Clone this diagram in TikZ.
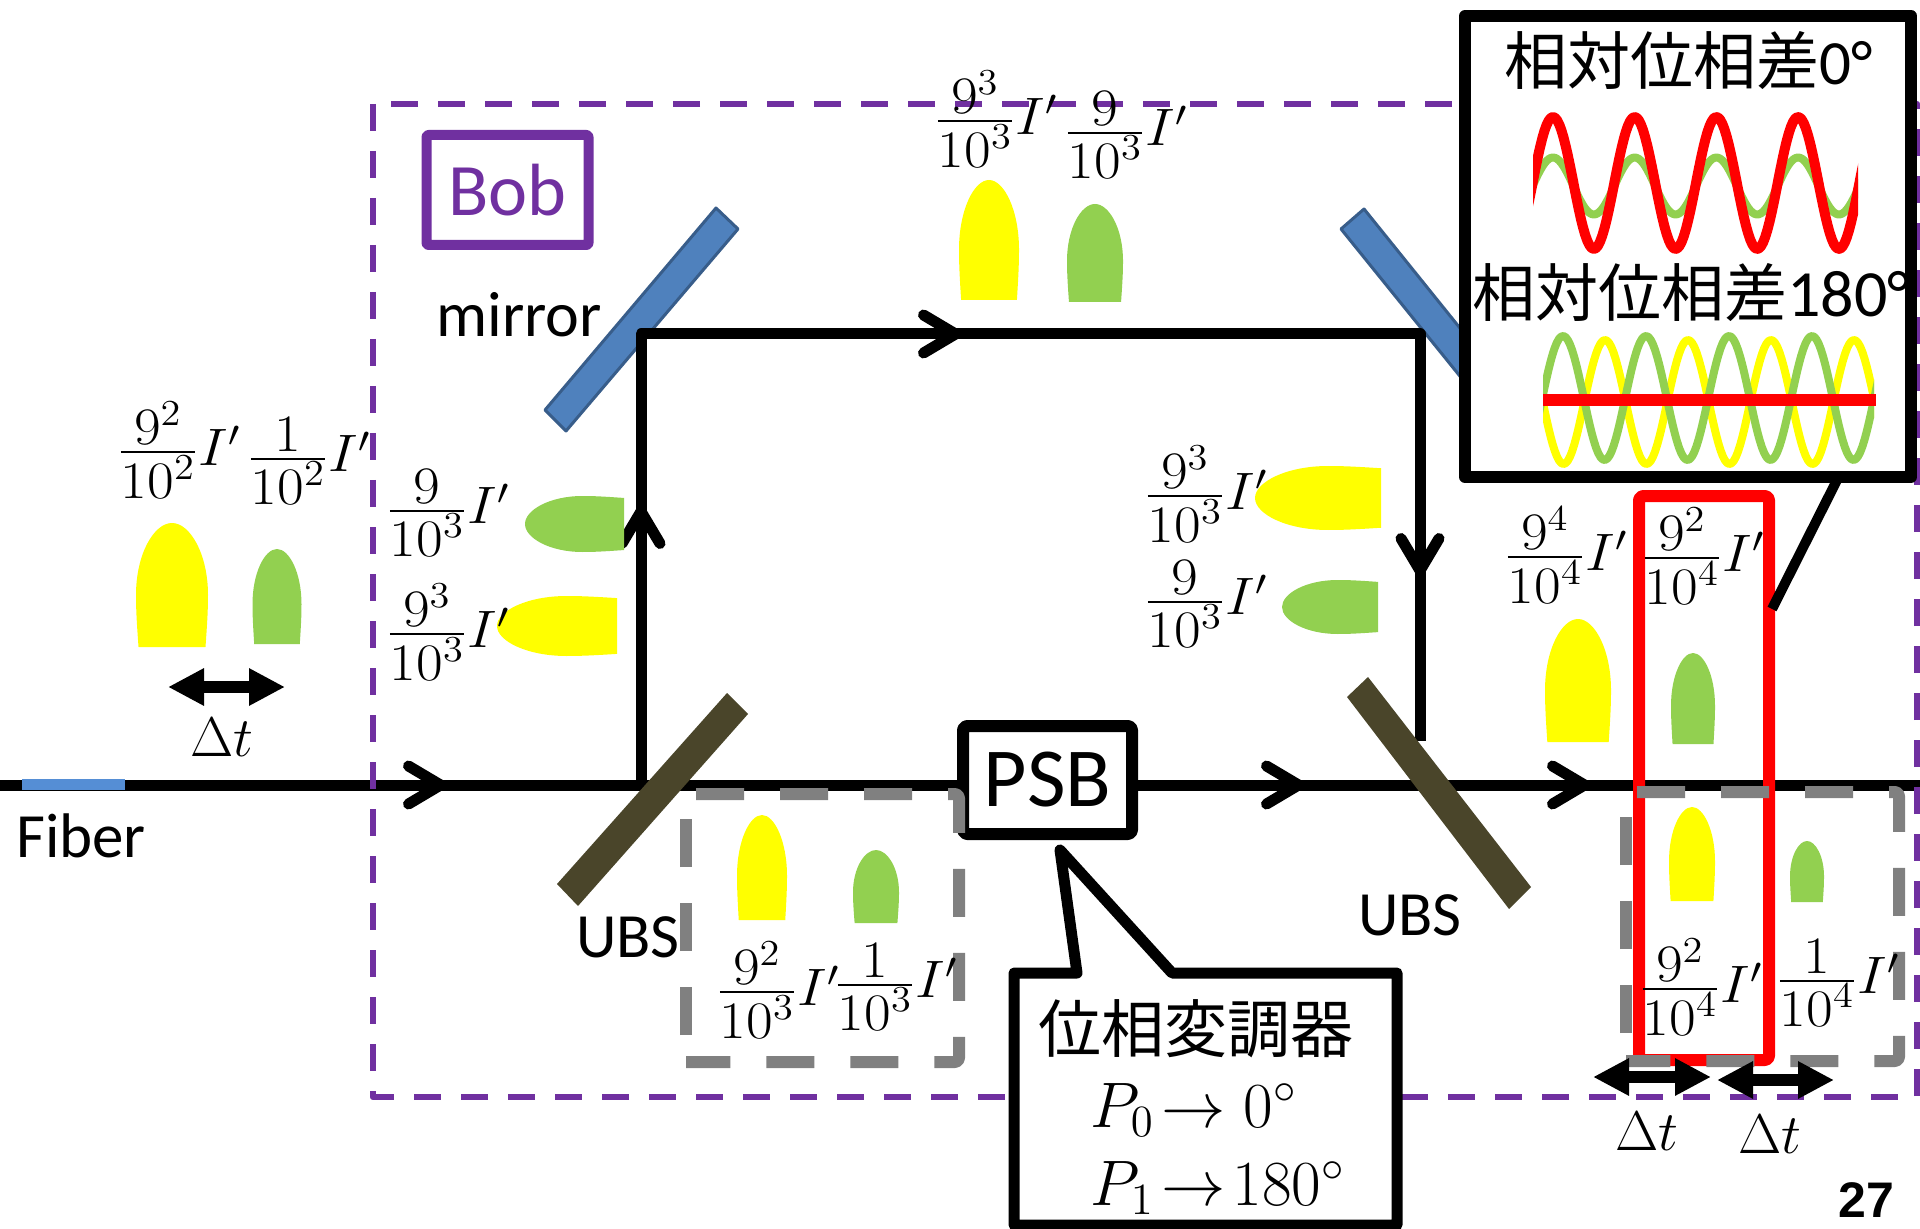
\documentclass[tikz,border=0pt]{standalone}
\usepackage{amsmath}
\usepackage[no-math]{fontspec}
\setmainfont{Carlito}
\newfontfamily\jpfont{Noto Sans CJK JP}
\usetikzlibrary{arrows.meta}

\definecolor{pulseGreen}{HTML}{92D050}
\definecolor{pulseYellow}{RGB}{255,255,0}
\definecolor{lineRed}{RGB}{255,0,0}
\definecolor{bobPurple}{HTML}{7030A0}
\definecolor{mirrorBlue}{HTML}{4F81BD}
\definecolor{mirrorEdge}{HTML}{385D8A}
\definecolor{fiberBlue}{HTML}{558ED5}
\definecolor{ubsBrown}{HTML}{4A452A}

% x, y of the flat side, half width, length, colour, rotation
\newcommand{\pulse}[6]{%
  \fill[#5, shift={(#1,#2)}, rotate=#6, xscale=#3, yscale=#4]
    (-.93,0) .. controls (-.98,-.2) and (-1,-.3) .. (-1,-.42)
    .. controls (-1,-.75) and (-.5,-1) .. (0,-1)
    .. controls (.5,-1) and (1,-.75) .. (1,-.42)
    .. controls (1,-.3) and (.98,-.2) .. (.93,0) -- cycle;}
\newcommand{\mathBox}[2]{\scalebox{#1}{\huge$#2$}}
\newcommand{\iFrac}[2]{\scalebox{1.4}[1.27]{\huge$\genfrac{}{}{0.9pt}{}{\textstyle #1}{\textstyle #2}I'$}}

\begin{document}
\begin{tikzpicture}[x=0.5pt, y=-0.5pt, line join=round]
  \useasboundingbox (0,0) rectangle (1920,1229);

  \tikzset{beam/.style={line width=5.5pt, color=black}}
  \tikzset{chevron/.style={-{Straight Barb[length=16pt, width=19pt, round]}}}
  \tikzset{frlabel/.style={anchor=west, inner sep=0pt}}
  \tikzset{calibri/.style={inner sep=0pt, font=\fontsize{31.5}{36}\selectfont}}
  \tikzset{jplabel/.style={inner sep=0pt, font=\fontsize{31.5}{36}\selectfont}}
  \tikzset{greydash/.style={line width=6pt, color=gray, rounded corners=2pt, dash pattern=on 24pt off 18pt}}
  \tikzset{dtarrow/.style={line width=6pt, {Triangle[length=18pt, width=17.5pt]}-{Triangle[length=18pt, width=17.5pt]}}}

  % Points of the beam
  \coordinate (FiberL) at (0,785);
  \coordinate (TipA) at (446,785);
  \coordinate (UbsA) at (641,785);
  \coordinate (TipUp) at (641,506);
  \coordinate (CornerA) at (641,334);
  \coordinate (TipTop) at (961,334);
  \coordinate (CornerB) at (1420,334);
  \coordinate (TipDown) at (1420,576);
  \coordinate (UbsB) at (1420,735);
  \coordinate (UbsBout) at (1450,785);
  \coordinate (TipB) at (1304,785);
  \coordinate (TipC) at (1590,785);
  \coordinate (FiberR) at (1920,785);

  % Mirrors
  \filldraw[fill=mirrorBlue, draw=mirrorEdge, line width=1.5pt]
    (716,208) -- (738,229) -- (566,431) -- (545,410) -- cycle;
  \filldraw[fill=mirrorBlue, draw=mirrorEdge, line width=1.5pt]
    (1341,229) -- (1364,209) -- (1480,353) -- (1480,401) -- cycle;

  % PSB box
  \node (PSB) [draw, line width=6pt, rounded corners=2pt, fill=white, minimum width=84.5pt,
    minimum height=54pt, inner sep=0pt, font=\fontsize{42}{46}\selectfont] at (1047.5,780) {PSB};

  % Beam lines
  \draw[beam] (FiberL) -- (UbsA);
  \draw[beam, chevron] (FiberL) -- (TipA);
  \fill[fiberBlue] (22,779) rectangle (125,790);
  \draw[beam] (UbsA) -- (PSB.west |- UbsA);
  \draw[beam, chevron] (UbsA) -- (TipUp);
  \draw[beam, line cap=rect] (TipUp) -- (CornerA) -- (CornerB) -- (UbsB);
  \draw[beam, chevron] (CornerA) -- (TipTop);
  \draw[beam, chevron] (CornerB) -- (TipDown);
  \draw[beam] (PSB.east |- UbsA) -- (FiberR);
  \draw[beam, chevron] (PSB.east |- UbsA) -- (TipB);
  \draw[beam, chevron] (UbsBout) -- (TipC);

  % Beam splitters
  \fill[ubsBrown] (727,693) -- (748,714) -- (578,906) -- (557,884) -- cycle;
  \fill[ubsBrown] (1368,677) -- (1347,697) -- (1509,909) -- (1531,887) -- cycle;

  % Pulses
  \pulse{172}{647}{36}{124}{pulseYellow}{0}
  \pulse{277}{644}{24.5}{95}{pulseGreen}{0}
  \pulse{624}{524}{28}{99}{pulseGreen}{90}
  \pulse{617}{626}{30}{120}{pulseYellow}{90}
  \pulse{989}{300}{30}{120}{pulseYellow}{0}
  \pulse{1095}{302}{28}{98}{pulseGreen}{0}
  \pulse{1381}{498}{32}{126}{pulseYellow}{90}
  \pulse{1378}{607}{27}{96}{pulseGreen}{90}
  \pulse{1578}{742}{33}{123}{pulseYellow}{0}
  \pulse{1693}{744}{22}{91}{pulseGreen}{0}
  \pulse{1692}{901}{23}{94}{pulseYellow}{0}
  \pulse{1807}{902}{17}{61}{pulseGreen}{0}
  \pulse{762}{920}{25}{105}{pulseYellow}{0}
  \pulse{876}{923}{23}{73}{pulseGreen}{0}

  % Bob frame
  \draw[bobPurple, line width=3.2pt, dash pattern=on 13.5pt off 10pt]
    (373,104) rectangle (1917,1097);
  \node (Bob) [draw=bobPurple, text=bobPurple, line width=5pt, rounded corners=1pt, minimum width=81pt,
    minimum height=55pt, inner sep=0pt, font=\fontsize{37}{40}\selectfont] at (507.5,190) {Bob};

  % Red frame and grey frames
  \draw[lineRed, line width=6pt, rounded corners=2pt] (1639,496) rectangle (1769,1060);
  \draw[greydash] (696,794) -- (959,794) -- (959,1062) -- (686,1062);
  \draw[greydash] (686,1035) -- (686,815);
  \draw[greydash] (1637,792) -- (1899,792) -- (1899,1061) -- (1626,1061);
  \draw[greydash] (1626,1033) -- (1626,815);

  % Fractions
  \node (LblA) [frlabel] at (117,450) {\iFrac{9^2}{10^2}};
  \node (LblB) [frlabel] at (247,461) {\iFrac{1}{10^2}};
  \node (LblC) [frlabel] at (386,513) {\iFrac{9}{10^3}};
  \node (LblD) [frlabel] at (386,632) {\iFrac{9^3}{10^3}};
  \node (LblE) [frlabel] at (934,119) {\iFrac{9^3}{10^3}};
  \node (LblF) [frlabel] at (1064,135) {\iFrac{9}{10^3}};
  \node (LblG) [frlabel] at (1144,494) {\iFrac{9^3}{10^3}};
  \node (LblH) [frlabel] at (1144,604) {\iFrac{9}{10^3}};
  \node (LblI) [frlabel] at (1504,555) {\iFrac{9^4}{10^4}};
  \node (LblJ) [frlabel] at (1641,556) {\iFrac{9^2}{10^4}};
  \node (LblK) [frlabel] at (1639,987) {\iFrac{9^2}{10^4}};
  \node (LblL) [frlabel] at (1776,983) {\iFrac{1}{10^4}};
  \node (LblM) [frlabel] at (716,990) {\iFrac{9^2}{10^3}};
  \node (LblN) [frlabel] at (834,987) {\iFrac{1}{10^3}};

  % Delay arrows
  \coordinate (DtAl) at (168,687);
  \coordinate (DtAr) at (285,687);
  \coordinate (DtBl) at (1593,1077);
  \coordinate (DtBr) at (1711,1077);
  \coordinate (DtCl) at (1717,1080);
  \coordinate (DtCr) at (1834,1080);
  \draw[dtarrow] (DtAl) -- (DtAr);
  \draw[dtarrow] (DtBl) -- (DtBr);
  \draw[dtarrow] (DtCl) -- (DtCr);
  \node (DtA) [inner sep=0pt] at (222,737) {\mathBox{1.35}{\Delta t}};
  \node (DtB) [inner sep=0pt] at (1647,1131) {\mathBox{1.35}{\Delta t}};
  \node (DtC) [inner sep=0pt] at (1770,1134) {\mathBox{1.35}{\Delta t}};

  % Plain labels
  \node (Mirror) [inner sep=0pt, font=\fontsize{32}{36}\selectfont] at (519,315) {mirror};
  \node (Fiber) [calibri] at (81,836) {Fiber};
  \node (UbsL) [calibri] at (628,937) {UBS};
  \node (UbsR) [calibri] at (1410,915) {UBS};
  \node (Page) [inner sep=0pt, font=\fontsize{25}{28}\selectfont\fontspec{Liberation Sans}\bfseries] at (1866,1200) {27};

  % Modulator callout
  \coordinate (PsbTip) at (1060,850);
  \draw[line width=5.5pt, fill=white] (1014,973) -- (1077,973) -- (PsbTip) -- (1172,973)
    -- (1397,973) -- (1397,1225) -- (1014,1225) -- cycle;
  \node (PsbTitle) [jplabel] at (1196,1029) {\jpfont 位相変調器};
  \node (PsbZero) [inner sep=0pt, anchor=west] at (1090,1110) {\mathBox{1.55}{P_0\!\rightarrow 0^\circ}};
  \node (PsbOne) [inner sep=0pt, anchor=west] at (1090,1188) {\mathBox{1.55}{P_1\!\rightarrow\!180^\circ}};

  % Phase callout
  \coordinate (PhaseTip) at (1772,609);
  \coordinate (PhaseFoot) at (1837,480);
  \draw[line width=5pt] (PhaseFoot) -- (PhaseTip);
  \draw[line width=6pt, fill=white] (1465,16) rectangle (1911,477);
  \node (PhaseZero) [jplabel] at (1689,61) {{\jpfont 相対位相差}0°};
  \node (PhasePi) [jplabel, anchor=west] at (1472,293) {{\jpfont 相対位相差}{\fontsize{33}{36}\selectfont 180°}};
  \begin{scope}
    \clip (1533,100) rectangle (1858,270);
    \draw[pulseGreen, line width=4pt] plot[domain=1525:1866, samples=160] (\x,{186-28.5*cos((\x-1553)/81.7*360)});
    \draw[lineRed, line width=5pt] plot[domain=1525:1866, samples=160] (\x,{183-66*cos((\x-1553)/81.7*360)});
  \end{scope}
  \begin{scope}
    \clip (1543,325) rectangle (1874,475);
    \draw[pulseYellow, line width=4pt] plot[domain=1535:1882, samples=160] (\x,{402-62*cos((\x-1605)/83*360)});
    \draw[pulseGreen, line width=4pt] plot[domain=1535:1882, samples=160] (\x,{398-62*cos((\x-1563)/83*360)});
  \end{scope}
  \fill[lineRed] (1543,394) rectangle (1876,406);
\end{tikzpicture}
\end{document}
